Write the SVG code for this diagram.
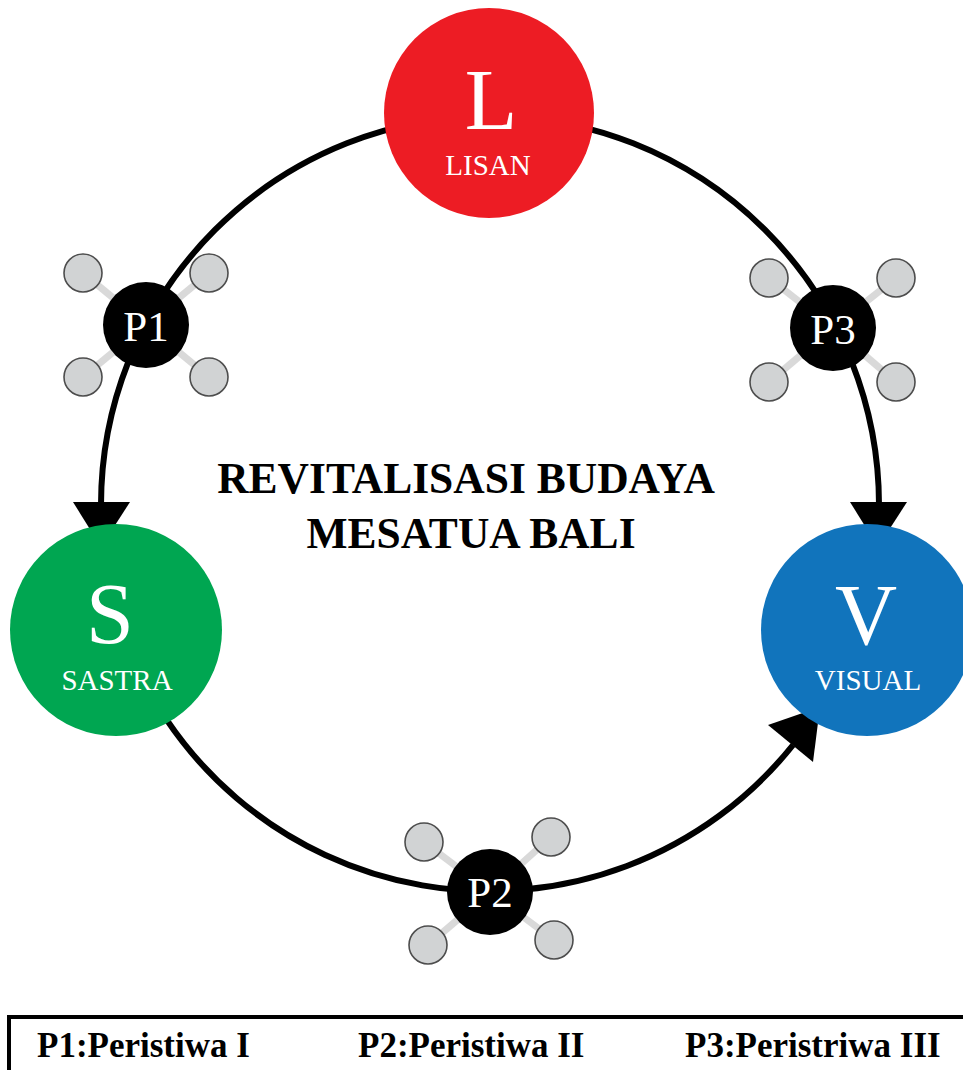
<svg xmlns="http://www.w3.org/2000/svg" width="963" height="1070" viewBox="0 0 963 1070">
  <style>
    .arc { fill: none; stroke: #000; stroke-width: 6; }
    .head { fill: #000; }
    .spoke { stroke: #d9d9d9; stroke-width: 7; }
    .sat { fill: #d1d3d4; stroke: #4d4d4d; stroke-width: 1.6; }
    .hub { fill: #000; }
    .serif { font-family: "Liberation Serif", "Times New Roman", serif; }
    .big { fill: #fff; font-size: 86px; text-anchor: middle; }
    .sub { fill: #fff; font-size: 29px; text-anchor: middle; }
    .plabel { fill: #fff; font-size: 43px; text-anchor: middle; }
    .title { fill: #000; font-size: 43.5px; font-weight: bold; text-anchor: middle; }
    .legend { fill: #000; font-size: 35px; font-weight: bold; }
  </style>

  <!-- connectors: arcs of one ring centred at (490,505), r = 389 -->
  <g id="connectors">
    <path class="arc" d="M 490 116 A 389 389 0 0 0 101 505"/>
    <path class="arc" d="M 490 116 A 389 389 0 0 1 879 505"/>
    <path class="arc" d="M 121 628 A 389 389 0 0 0 793 745"/>
    <polygon class="head" points="73,502 130,502 101,547"/>
    <polygon class="head" points="850,502 907,502 878,547"/>
    <polygon class="head" points="768,725 813,762 820,707"/>
  </g>

  <!-- event nodes -->
  <g id="p1">
    <line class="spoke" x1="146" y1="325" x2="83" y2="273"/>
    <line class="spoke" x1="146" y1="325" x2="209" y2="273"/>
    <line class="spoke" x1="146" y1="325" x2="83" y2="377"/>
    <line class="spoke" x1="146" y1="325" x2="209" y2="377"/>
    <circle class="sat" cx="83" cy="273" r="19"/>
    <circle class="sat" cx="209" cy="273" r="19"/>
    <circle class="sat" cx="83" cy="377" r="19"/>
    <circle class="sat" cx="209" cy="377" r="19"/>
    <circle class="hub" cx="146" cy="325" r="43"/>
    <text class="serif plabel" x="146" y="341">P1</text>
  </g>

  <g id="p3">
    <line class="spoke" x1="833" y1="328" x2="769" y2="278"/>
    <line class="spoke" x1="833" y1="328" x2="896" y2="278"/>
    <line class="spoke" x1="833" y1="328" x2="769" y2="382"/>
    <line class="spoke" x1="833" y1="328" x2="896" y2="382"/>
    <circle class="sat" cx="769" cy="278" r="19"/>
    <circle class="sat" cx="896" cy="278" r="19"/>
    <circle class="sat" cx="769" cy="382" r="19"/>
    <circle class="sat" cx="896" cy="382" r="19"/>
    <circle class="hub" cx="833" cy="328" r="43"/>
    <text class="serif plabel" x="833" y="344">P3</text>
  </g>

  <g id="p2">
    <line class="spoke" x1="490" y1="892" x2="424" y2="842"/>
    <line class="spoke" x1="490" y1="892" x2="551" y2="837"/>
    <line class="spoke" x1="490" y1="892" x2="428" y2="945"/>
    <line class="spoke" x1="490" y1="892" x2="554" y2="940"/>
    <circle class="sat" cx="424" cy="842" r="19"/>
    <circle class="sat" cx="551" cy="837" r="19"/>
    <circle class="sat" cx="428" cy="945" r="19"/>
    <circle class="sat" cx="554" cy="940" r="19"/>
    <circle class="hub" cx="490" cy="892" r="43"/>
    <text class="serif plabel" x="490" y="907">P2</text>
  </g>

  <!-- main nodes -->
  <g id="lisan">
    <circle cx="489" cy="113" r="105" fill="#ed1c24"/>
    <text class="serif big" x="491" y="129">L</text>
    <text class="serif sub" x="488" y="175">LISAN</text>
  </g>

  <g id="sastra">
    <circle cx="116" cy="630" r="106" fill="#00a651"/>
    <text class="serif big" x="110" y="643">S</text>
    <text class="serif sub" x="117" y="690">SASTRA</text>
  </g>

  <g id="visual">
    <circle cx="867" cy="630" r="106" fill="#1174bc"/>
    <text class="serif big" x="866" y="644">V</text>
    <text class="serif sub" x="868" y="690">VISUAL</text>
  </g>

  <!-- centre title -->
  <g id="title">
    <text class="serif title" x="466" y="493">REVITALISASI BUDAYA</text>
    <text class="serif title" x="471" y="548">MESATUA BALI</text>
  </g>

  <!-- legend -->
  <g id="legend">
    <rect x="9" y="1017" width="1000" height="100" fill="none" stroke="#000" stroke-width="4"/>
    <text class="serif legend" x="37" y="1057">P1:Peristiwa I</text>
    <text class="serif legend" x="358" y="1057">P2:Peristiwa II</text>
    <text class="serif legend" x="685" y="1057">P3:Peristriwa III</text>
  </g>
</svg>
